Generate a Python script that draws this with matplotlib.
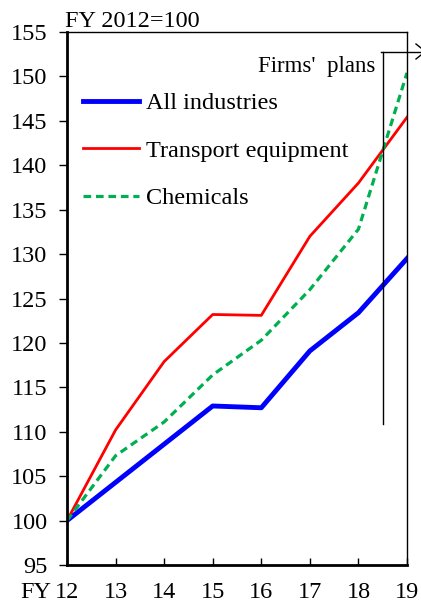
import matplotlib
matplotlib.use("Agg")
import matplotlib.pyplot as plt
from matplotlib.lines import Line2D

plt.rcParams['font.family'] = ['Liberation Serif', 'DejaVu Serif']

years = [12, 13, 14, 15, 16, 17, 18, 19]
all_industries = [100.0, 104.3, 108.6, 112.9, 112.7, 119.1, 123.4, 129.5]
transport = [100.0, 110.2, 117.9, 123.2, 123.1, 132.0, 138.0, 145.4]
chemicals = [100.0, 107.3, 111.1, 116.4, 120.3, 126.0, 132.8, 150.4]
yticks = [95, 100, 105, 110, 115, 120, 125, 130, 135, 140, 145, 150, 155]
xticklabels = ['12', '13', '14', '15', '16', '17', '18', '19']
plans_x = 18.5
plans_ymin, plans_ymax = 110.9, 152.8

FS = 17.5
W, H = 421, 606
fig = plt.figure(figsize=(W/100, H/100), dpi=100)
ax = fig.add_axes([67/W, 1-565/H, (407-67)/W, (565-32)/H])

ax.plot(years, all_industries, color='#0000ff', lw=3.5, label='All industries')
ax.plot(years, transport, color='#ff0000', lw=2.0, label='Transport equipment')
ax.plot(years, chemicals, color='#00b050', lw=2.3, ls=(0, (2.4, 1.5)), label='Chemicals')

ax.set_xlim(12, 19)
ax.set_ylim(95, 155)
ax.set_yticks(yticks)
ax.set_xticks(years)
ax.set_xticklabels(xticklabels)
ax.tick_params(axis='y', direction='out', length=6, width=1, labelsize=FS, pad=8)
ax.tick_params(axis='x', direction='in', length=5, width=1, labelsize=FS, pad=12)
for s in ['left', 'bottom']:
    ax.spines[s].set_linewidth(2)
for s in ['top', 'right']:
    ax.spines[s].set_linewidth(1)

# FY prefix on the first x tick label
fig.text(51/W, 1-598/H, 'FY', ha='right', va='baseline', fontsize=FS)
fig.text(65/W, 1-27/H, 'FY 2012=100', ha='left', va='baseline', fontsize=FS)

ax.legend(loc='upper left', bbox_to_anchor=(0.018, 0.905), frameon=False, fontsize=FS,
          handlelength=2.3, labelspacing=1.05, handletextpad=0.3, borderaxespad=0)

# Firms' plans marker
ax.plot([plans_x, plans_x], [plans_ymin, plans_ymax], color='black', lw=1, clip_on=False)
fig.add_artist(Line2D([381/W, 1.0], [1-52/H, 1-52/H], color='black', lw=1))
fig.add_artist(Line2D([416/W, 421/W], [1-44/H, 1-48/H], color='black', lw=1))
fig.add_artist(Line2D([416/W, 421/W], [1-59/H, 1-55/H], color='black', lw=1))
fig.text(375/W, 1-72/H, "Firms'  plans", ha='right', va='baseline', fontsize=16.5)

fig.savefig('out.png', dpi=100)
